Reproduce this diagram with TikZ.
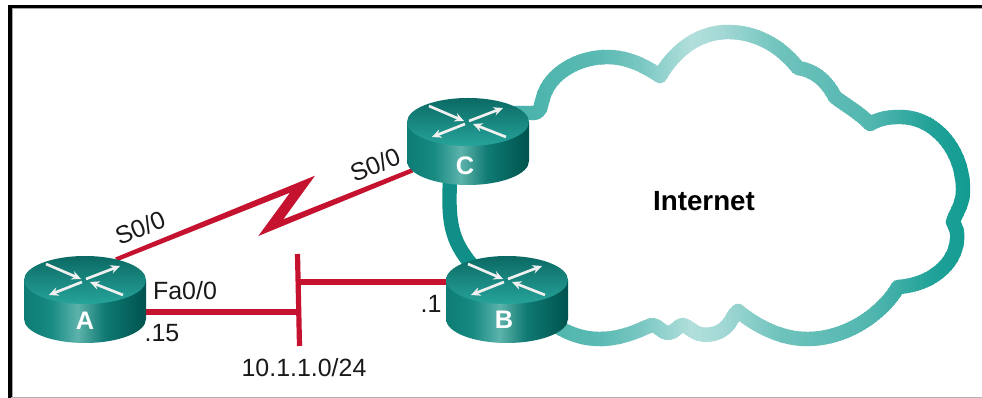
\documentclass[tikz,border=0pt]{standalone}
\usepackage{fontspec}
\setmainfont{Liberation Sans}
\usetikzlibrary{backgrounds,arrows.meta}
\definecolor{redlink}{HTML}{C4122F}
\definecolor{cteal}{HTML}{0E9A90}
\definecolor{linkteal}{HTML}{0F8F87}
\definecolor{ra}{HTML}{0D7C75}
\definecolor{rb}{HTML}{178A82}
\definecolor{rc}{HTML}{5CB3AB}
\definecolor{rd}{HTML}{0F7A73}
\definecolor{re}{HTML}{00524D}
\pgfdeclarehorizontalshading{routerside}{100bp}{color(0bp)=(ra);color(25bp)=(ra);color(36bp)=(rb);color(47bp)=(rc);color(58bp)=(rd);color(75bp)=(re);color(100bp)=(re)}
\tikzset{
  redline/.style={draw=redlink,line width=3.9pt},
  rarrow/.style={draw=white!94!black,line width=2pt,-{Stealth[length=7pt,width=6.5pt]}},
  routerbox/.style={minimum width=91.5pt,minimum height=65.25pt,inner sep=0pt,outer sep=0pt},
  routerlabel/.style={font=\fontsize{19}{19}\selectfont\bfseries,text=white,inner sep=0pt},
  lbl/.style={font=\fontsize{18.7}{18.7}\selectfont,text=black!90,inner sep=0pt},
}
\newcommand{\rtr}[6]{%
  \shade[shading=routerside] (#2-61,#3) -- (#2-61,#3+39) arc[start angle=180,end angle=0,x radius=61,y radius=24] -- (#2+61,#3) -- cycle;
  \shade[top color=ra!85!black,bottom color=cteal!90!white] (#2,#3) ellipse [x radius=61,y radius=24];
  \draw[rarrow] (#2-39,#3-16) -- (#2-4,#3-1);
  \draw[rarrow] (#2+38,#3+15) -- (#2+5,#3+2);
  \draw[rarrow] (#2+1,#3-1) -- (#2+35,#3-14);
  \draw[rarrow] (#2-3,#3+2) -- (#2-36,#3+15);
  \node[routerbox] (#1) at (#2,#3+19.5) {};
  \node[routerlabel] (#1label) at (#5,#6) {#4};
}
\newcommand{\cloudline}{(515,113) -- (532,113) .. controls (541,113) and (540,108) .. (543,98)
  .. controls (550,72) and (580,57) .. (607,57)
  .. controls (628,57) and (645,66) .. (660,76)
  .. controls (672,55) and (695,32) .. (728,32)
  .. controls (755,32) and (780,45) .. (798,68)
  .. controls (812,70) and (825,78) .. (835,97)
  .. controls (845,105) and (860,113) .. (870,124)
  .. controls (880,118) and (890,117) .. (900,117)
  .. controls (935,117) and (963,150) .. (963,190)
  .. controls (963,205) and (956,212) .. (953,222)
  .. controls (956,228) and (958,232) .. (957,240)
  .. controls (955,265) and (930,285) .. (898,287)
  .. controls (885,310) and (850,339) .. (807,339)
  .. controls (780,339) and (755,325) .. (738,311)
  .. controls (733,314) and (732,322) .. (725,328)
  .. controls (718,334) and (708,336) .. (700,334)
  .. controls (692,332) and (688,326) .. (683,325)
  .. controls (678,325) and (675,333) .. (668,333)
  .. controls (662,333) and (658,325) .. (652,325)
  .. controls (645,327) and (625,339) .. (600,339)
  .. controls (580,339) and (565,332) .. (550,322)}
\begin{document}
\begin{tikzpicture}[x=0.75pt,y=-0.75pt]
\useasboundingbox (0,0) rectangle (982,398);
% frame
\fill[gray!70] (11,8) rectangle (982,9.5);
\fill[gray!70] (11,8) rectangle (12.8,397);
\fill[black] (8,5) rectangle (982,8);
\fill[black] (8,5) rectangle (11.5,398);
\fill[black!30] (11,397) rectangle (982,398);
% cloud
\foreach \xa/\xb/\ta/\tb in {510/600/76/68,600/640/68/55,640/690/55/32,690/720/32/38,720/780/38/60,780/870/60/72,870/930/72/92,930/975/92/100}{
  \pgfmathsetmacro\xn{\xa+3}
  \foreach \x in {\xa,\xn,...,\xb}{
    \pgfmathsetmacro\tv{\ta+(\tb-\ta)*(\x-\xa)/(\xb-\xa)}
    \colorlet{cloudcol}{cteal!\tv!white}
    \begin{scope}
      \clip (\x,0) rectangle (\x+3.8,398);
      \draw[cloudcol,line width=10.8pt,line join=round,line cap=round] \cloudline;
    \end{scope}
  }
}
% routers
\rtr{A}{85}{280}{A}{85}{321}
\rtr{C}{468}{122}{C}{465}{166}
\rtr{B}{507}{280}{B}{504}{320}
% network bar and junctions
\coordinate (bartop) at (297.5,254);
\coordinate (barbot) at (299.5,346);
\coordinate (barA) at (298.5,312);
\coordinate (barB) at (298.5,282);
\begin{scope}[on background layer]
  \draw[redline] (A.east |- barA) -- (barA);
  \draw[redline] (barB) -- (B.west |- barB);
  \draw[redline] (bartop) -- (barbot);
  \fill[redlink] ([xshift=22.5pt,yshift=-1.2pt]A.north) -- (315,175.7) -- (283.3,219.3) -- ([xshift=4pt,yshift=12.75pt]C.south west) -- ([xshift=4.5pt,yshift=9.4pt]C.south west) -- (258.3,236) -- (290,192.7) -- ([xshift=24.5pt,yshift=-3.8pt]A.north) -- cycle;
  \draw[linkteal,line width=10.8pt] ([xshift=-13.5pt,yshift=3pt]C.south) .. controls +(-1.5pt,-30pt) and +(-15pt,18pt) .. ([xshift=-27pt,yshift=-6pt]B.north);
\end{scope}
% labels
\node[lbl,rotate=22] (s0a) at (140,228) {S0/0};
\node[lbl,rotate=22] (s0c) at (375,165) {S0/0};
\node[lbl] (fa) at (185,291) {Fa0/0};
\node[lbl] (d15) at (162,333) {.15};
\node[lbl] (d1) at (431,304) {.1};
\node[lbl] (net) at (304,368) {10.1.1.0/24};
\node[font=\fontsize{20.8}{20.8}\selectfont\bfseries,text=black,inner sep=0pt] (inet) at (704,201) {Internet};
\end{tikzpicture}
\end{document}
